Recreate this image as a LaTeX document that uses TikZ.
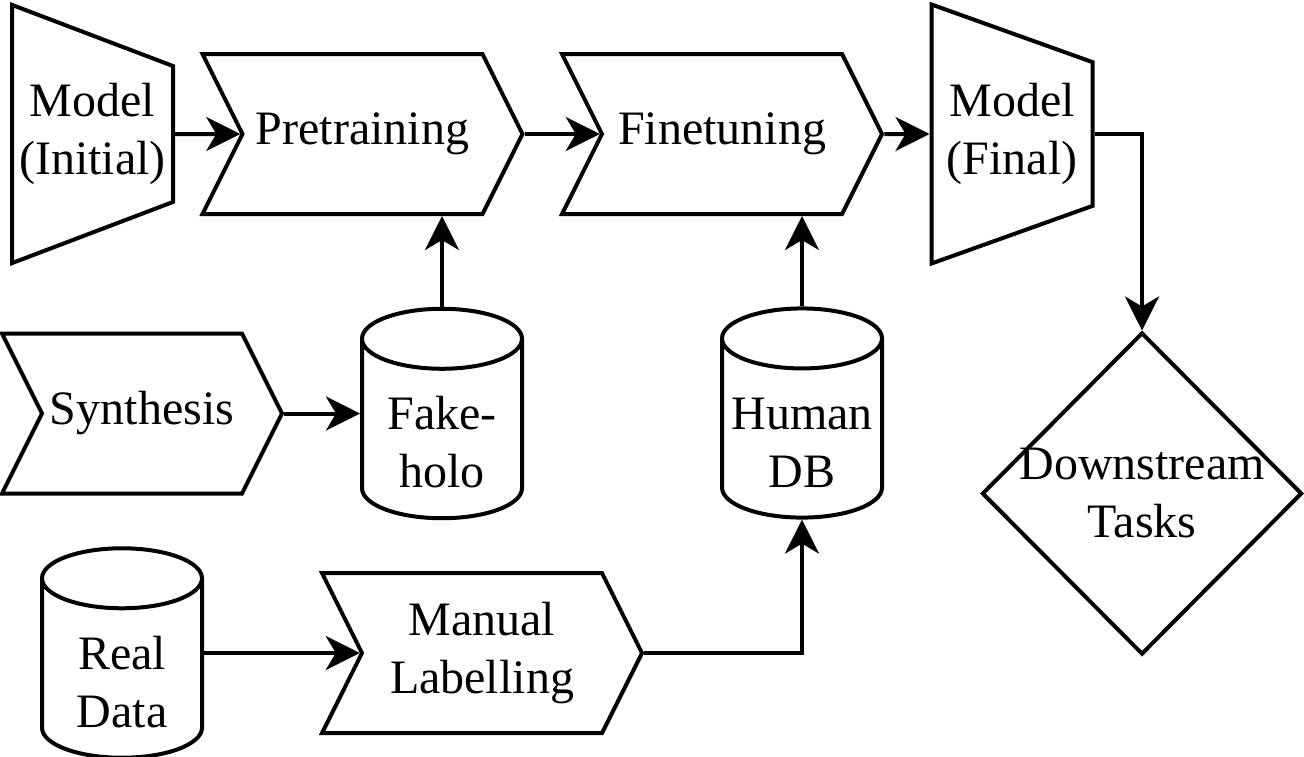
\documentclass[tikz,border=0pt]{standalone}
\usepackage{fontspec}
\setmainfont{Liberation Serif}
\usetikzlibrary{shapes.geometric,shapes.symbols,arrows.meta}

\tikzset{
  base/.style={draw, line width=2pt, inner sep=0pt, align=center,
    font=\fontsize{24}{29}\selectfont},
  model/.style={base, trapezium, shape border rotate=270, trapezium stretches=true,
    trapezium left angle=72.7, trapezium right angle=72.7,
    minimum width=130pt, minimum height=80.5pt},
  stage/.style={base, signal, signal from=west, signal to=east,
    signal pointer angle=126.87, minimum width=160pt, minimum height=80pt},
  store/.style={base, cylinder, shape border rotate=90, aspect=0.375,
    text width=80pt, text height=29.5pt, minimum width=80pt, minimum height=100pt,
    anchor=shape center},
  task/.style={base, diamond, minimum width=160pt, minimum height=161pt},
  flow/.style={line width=2pt, -{Stealth[length=17pt, width=17pt, inset=5pt]}},
}

\begin{document}
\begin{tikzpicture}[x=0.5pt, y=-0.5pt]
\useasboundingbox (0,0) rectangle (1304,756);

% main pipeline
\node[model] (init) at (92.5,134) {Model\\(Initial)};
\node[stage] (pre) at (362.5,134) {Pretraining};
\node[stage] (fine) at (722,134) {Finetuning};
\node[model] (final) at (1012,134) {Model\\(Final)};
\node[task, label={[base, draw=none]center:Downstream\\Tasks}] (down) at (1142,493.5) {};

% data sources
\node[stage, minimum width=140pt] (syn) at (142,413.5) {Synthesis};
\node[store] (fake) at (442,413.5) {Fake-\\holo};
\node[store] (human) at (802,413) {Human\\DB};
\node[store] (real) at (122,653) {Real\\Data};
\node[stage] (manual) at (482,653) {Manual\\Labelling};

% connectors
\draw[flow] (init.east) -- (pre.west);
\draw[flow] (pre.east) -- (fine.west);
\draw[flow] (fine.east) -- (final.west);
\draw[flow] (final.east) -| (down.north);
\draw[flow] (syn.east) -- (syn.east -| fake.west);
\draw[flow] (fake.north) -- (fake.north |- pre.south);
\draw[flow] (human.north) -- (human.north |- fine.south);
\draw[flow] (manual.west -| real.east) -- (manual.west);
\draw[flow] (manual.east) -| (human.south);
\end{tikzpicture}
\end{document}
